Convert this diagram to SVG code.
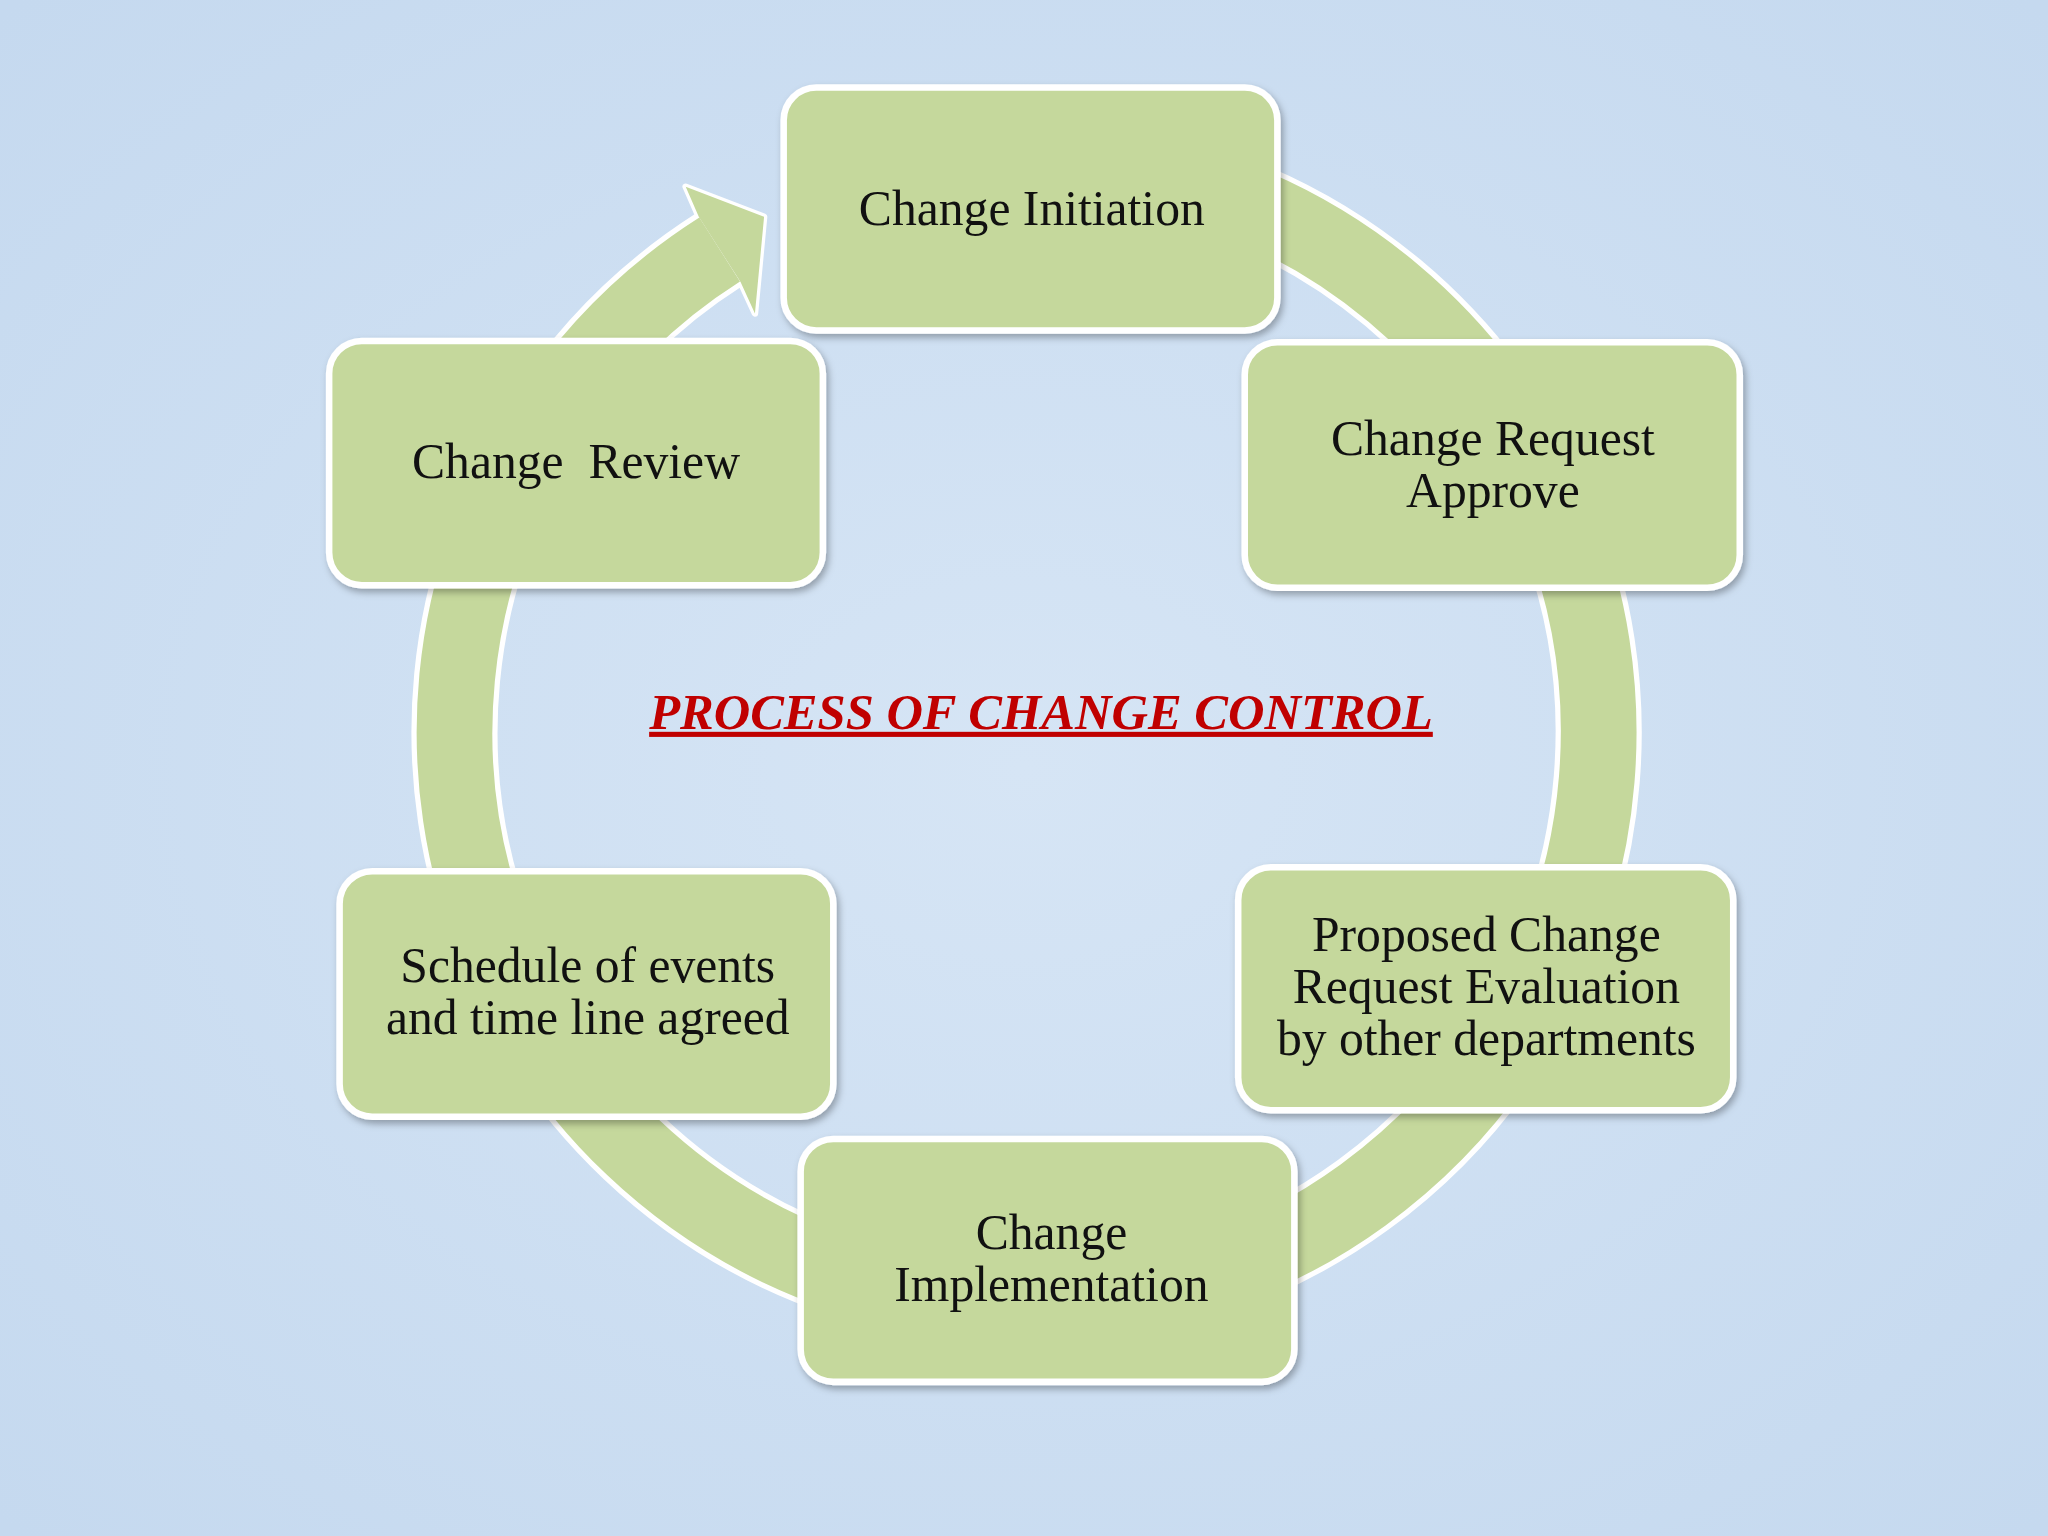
<svg xmlns="http://www.w3.org/2000/svg" width="2048" height="1536" viewBox="0 0 2048 1536">
<defs>
<style>
.box{fill:#c5d89c;stroke:#ffffff;stroke-width:5;filter:url(#sh)}
.t{font-family:"Liberation Serif",serif;font-size:38px;fill:#111;text-anchor:middle}
</style>
<filter id="sh" x="-10%" y="-10%" width="130%" height="130%"><feDropShadow dx="2" dy="3" stdDeviation="3" flood-color="#000" flood-opacity="0.3"/></filter>
<radialGradient id="bg" cx="50%" cy="50%" r="70%"><stop offset="0" stop-color="#d6e5f5"/><stop offset="1" stop-color="#c5d9ef"/></radialGradient>
</defs>
<rect width="2048" height="1536" fill="url(#bg)"/>
<g transform="scale(1.30612)">
<g id="connectors">
<path d="M 551 191 A 438 438 0 1 0 901 138" fill="none" stroke="#ffffff" stroke-width="66"/>
<polygon points="535,166 525,143 585,166 578,240 567,216" fill="#c5d89c" stroke="#fff" stroke-width="5" stroke-linejoin="round"/>
<path d="M 551 191 A 438 438 0 1 0 901 138" fill="none" stroke="#c5d89c" stroke-width="58"/>
<polygon points="535,166 525,143 585,166 578,240 567,216" fill="#c5d89c"/>
</g>
<g id="n1"><rect class="box" x="600" y="67" width="378" height="186" rx="25"/><text class="t" x="790" y="172">Change Initiation</text></g>
<g id="n2"><rect class="box" x="953" y="262" width="379" height="188" rx="25"/><text class="t" x="1143" y="348">Change Request</text><text class="t" x="1143" y="388">Approve</text></g>
<g id="n3"><rect class="box" x="948" y="664" width="379" height="186" rx="25"/><text class="t" x="1138" y="728">Proposed Change</text><text class="t" x="1138" y="768">Request Evaluation</text><text class="t" x="1138" y="808">by other departments</text></g>
<g id="n4"><rect class="box" x="613" y="872" width="378" height="186" rx="25"/><text class="t" x="805" y="956">Change</text><text class="t" x="805" y="996">Implementation</text></g>
<g id="n5"><rect class="box" x="260" y="667" width="378" height="188" rx="25"/><text class="t" x="450" y="752">Schedule of events</text><text class="t" x="450" y="792">and time line agreed</text></g>
<g id="n6"><rect class="box" x="252" y="261" width="378" height="187" rx="25"/><text class="t" x="441" y="366" xml:space="preserve">Change  Review</text></g>
<text x="797" y="558" font-family="Liberation Serif,serif" font-size="39" font-weight="bold" font-style="italic" fill="#c00000" text-anchor="middle" text-decoration="underline" textLength="600" lengthAdjust="spacingAndGlyphs">PROCESS OF CHANGE CONTROL</text>
</g>
</svg>
